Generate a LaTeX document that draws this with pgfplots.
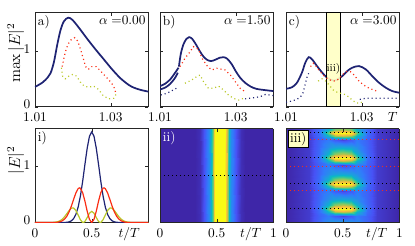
\documentclass[border=0pt]{standalone}
\usepackage{pgfplots}
\pgfplotsset{compat=1.18}
\definecolor{navy}{RGB}{30,35,115}
\definecolor{myred}{RGB}{250,45,20}
\definecolor{myyel}{RGB}{185,200,40}
\definecolor{boxyel}{RGB}{255,255,195}
\pgfplotsset{
 colormap={parula}{rgb255=(62,38,168) rgb255=(71,82,245) rgb255=(49,123,251) rgb255=(32,154,225) rgb255=(8,183,200) rgb255=(56,198,149) rgb255=(131,201,99) rgb255=(202,191,65) rgb255=(250,187,64) rgb255=(245,218,41) rgb255=(249,251,21)},
 base/.style={scale only axis, width=85.1pt, height=70.5pt, axis line style={black!85}, tick align=inside,
   tick style={black!85, major tick length=2.5pt}, enlargelimits=false,
   xticklabel style={text height=1.6ex, text depth=0.3ex, yshift=-0.8pt},
   yticklabel style={yshift=1.5pt}},
 toprow/.style={base, xmin=1.01, xmax=1.04, ymin=0, ymax=1.69, xtick={1.01,1.03}, xticklabels={1.01,1.03}, ytick={0,1}},
 sol/.style={navy, line width=1.3pt, smooth},
 dot/.style={line width=0.9pt, dash pattern=on 0.8pt off 2.2pt},
 heat/.style={base, view={0}{90}, xmin=0, xmax=1, ymin=0, ymax=1, xtick={0,0.5,1}, ytick=\empty,
   colormap name=parula, point meta min=0, point meta max=1, axis on top,
   extra x ticks={0.8}, extra x tick labels={$t/T$}, extra x tick style={major tick length=0pt}},
}
\pgfplotstableread{
x y z
0 0 0
0.2 0 0.05
0.29 0 0.15
0.37 0 0.26
0.43 0 0.32
0.5 0 0.34
0.57 0 0.32
0.63 0 0.26
0.71 0 0.15
0.8 0 0.05
1 0 0

0 0.073 0
0.2 0.073 0.05
0.29 0.073 0.14
0.37 0.073 0.20
0.43 0.073 0.12
0.5 0.073 0.07
0.57 0.073 0.12
0.63 0.073 0.20
0.71 0.073 0.14
0.8 0.073 0.05
1 0.073 0

0 0.113 0
0.2 0.113 0.05
0.29 0.113 0.16
0.37 0.113 0.38
0.43 0.113 0.62
0.5 0.113 0.68
0.57 0.113 0.62
0.63 0.113 0.38
0.71 0.113 0.16
0.8 0.113 0.05
1 0.113 0

0 0.148 0
0.2 0.148 0.05
0.29 0.148 0.17
0.37 0.148 0.55
0.43 0.148 0.97
0.5 0.148 1
0.57 0.148 0.97
0.63 0.148 0.55
0.71 0.148 0.17
0.8 0.148 0.05
1 0.148 0

0 0.183 0
0.2 0.183 0.05
0.29 0.183 0.16
0.37 0.183 0.38
0.43 0.183 0.62
0.5 0.183 0.68
0.57 0.183 0.62
0.63 0.183 0.38
0.71 0.183 0.16
0.8 0.183 0.05
1 0.183 0

0 0.25 0
0.2 0.25 0.05
0.29 0.25 0.15
0.37 0.25 0.26
0.43 0.25 0.32
0.5 0.25 0.34
0.57 0.25 0.32
0.63 0.25 0.26
0.71 0.25 0.15
0.8 0.25 0.05
1 0.25 0

0 0.338 0
0.2 0.338 0.05
0.29 0.338 0.14
0.37 0.338 0.20
0.43 0.338 0.12
0.5 0.338 0.07
0.57 0.338 0.12
0.63 0.338 0.20
0.71 0.338 0.14
0.8 0.338 0.05
1 0.338 0

0 0.378 0
0.2 0.378 0.05
0.29 0.378 0.16
0.37 0.378 0.38
0.43 0.378 0.62
0.5 0.378 0.68
0.57 0.378 0.62
0.63 0.378 0.38
0.71 0.378 0.16
0.8 0.378 0.05
1 0.378 0

0 0.413 0
0.2 0.413 0.05
0.29 0.413 0.17
0.37 0.413 0.55
0.43 0.413 0.97
0.5 0.413 1
0.57 0.413 0.97
0.63 0.413 0.55
0.71 0.413 0.17
0.8 0.413 0.05
1 0.413 0

0 0.448 0
0.2 0.448 0.05
0.29 0.448 0.16
0.37 0.448 0.38
0.43 0.448 0.62
0.5 0.448 0.68
0.57 0.448 0.62
0.63 0.448 0.38
0.71 0.448 0.16
0.8 0.448 0.05
1 0.448 0

0 0.52 0
0.2 0.52 0.05
0.29 0.52 0.15
0.37 0.52 0.26
0.43 0.52 0.32
0.5 0.52 0.34
0.57 0.52 0.32
0.63 0.52 0.26
0.71 0.52 0.15
0.8 0.52 0.05
1 0.52 0

0 0.614 0
0.2 0.614 0.05
0.29 0.614 0.14
0.37 0.614 0.20
0.43 0.614 0.12
0.5 0.614 0.07
0.57 0.614 0.12
0.63 0.614 0.20
0.71 0.614 0.14
0.8 0.614 0.05
1 0.614 0

0 0.654 0
0.2 0.654 0.05
0.29 0.654 0.16
0.37 0.654 0.38
0.43 0.654 0.62
0.5 0.654 0.68
0.57 0.654 0.62
0.63 0.654 0.38
0.71 0.654 0.16
0.8 0.654 0.05
1 0.654 0

0 0.689 0
0.2 0.689 0.05
0.29 0.689 0.17
0.37 0.689 0.55
0.43 0.689 0.97
0.5 0.689 1
0.57 0.689 0.97
0.63 0.689 0.55
0.71 0.689 0.17
0.8 0.689 0.05
1 0.689 0

0 0.724 0
0.2 0.724 0.05
0.29 0.724 0.16
0.37 0.724 0.38
0.43 0.724 0.62
0.5 0.724 0.68
0.57 0.724 0.62
0.63 0.724 0.38
0.71 0.724 0.16
0.8 0.724 0.05
1 0.724 0

0 0.80 0
0.2 0.80 0.05
0.29 0.80 0.15
0.37 0.80 0.26
0.43 0.80 0.32
0.5 0.80 0.34
0.57 0.80 0.32
0.63 0.80 0.26
0.71 0.80 0.15
0.8 0.80 0.05
1 0.80 0

0 0.879 0
0.2 0.879 0.05
0.29 0.879 0.14
0.37 0.879 0.20
0.43 0.879 0.12
0.5 0.879 0.07
0.57 0.879 0.12
0.63 0.879 0.20
0.71 0.879 0.14
0.8 0.879 0.05
1 0.879 0

0 0.919 0
0.2 0.919 0.05
0.29 0.919 0.16
0.37 0.919 0.38
0.43 0.919 0.62
0.5 0.919 0.68
0.57 0.919 0.62
0.63 0.919 0.38
0.71 0.919 0.16
0.8 0.919 0.05
1 0.919 0

0 0.954 0
0.2 0.954 0.05
0.29 0.954 0.17
0.37 0.954 0.55
0.43 0.954 0.97
0.5 0.954 1
0.57 0.954 0.97
0.63 0.954 0.55
0.71 0.954 0.17
0.8 0.954 0.05
1 0.954 0

0 0.989 0
0.2 0.989 0.05
0.29 0.989 0.16
0.37 0.989 0.38
0.43 0.989 0.62
0.5 0.989 0.68
0.57 0.989 0.62
0.63 0.989 0.38
0.71 0.989 0.16
0.8 0.989 0.05
1 0.989 0

0 1 0
0.2 1 0.05
0.29 1 0.16
0.37 1 0.36
0.43 1 0.58
0.5 1 0.63
0.57 1 0.58
0.63 1 0.36
0.71 1 0.16
0.8 1 0.05
1 1 0
}\heatiii
\begin{document}
\begin{tikzpicture}
\useasboundingbox (0,0) rectangle (311.25pt,184.5pt);
% ---------- a)
\begin{axis}[toprow, at={(26.25pt,104.5pt)}, anchor=south west, yticklabels={0,1},
  ylabel={$\max|E|^2$}, ylabel style={font=\large, at={(axis description cs:-0.17,0.57)}, anchor=center}]
\addplot[sol] coordinates {(1.0100,0.355) (1.0119,0.43) (1.0133,0.52) (1.0141,0.60) (1.0150,0.80) (1.0159,1.12) (1.0168,1.39) (1.0177,1.54) (1.0188,1.60) (1.0199,1.56) (1.0216,1.42) (1.0238,1.22) (1.0260,1.03) (1.0282,0.85) (1.0304,0.67) (1.0326,0.51) (1.0348,0.39) (1.0362,0.34) (1.0380,0.30) (1.0400,0.27)};
\addplot[myred, dot] coordinates {(1.0172,0.72) (1.0176,0.86) (1.0181,1.0) (1.0187,1.12) (1.0195,1.20) (1.0205,1.24) (1.0213,1.18) (1.0220,1.04) (1.0227,0.88) (1.0234,0.72) (1.0241,0.67) (1.0250,0.72) (1.0262,0.72) (1.0275,0.63) (1.0290,0.52) (1.0303,0.42) (1.0311,0.32) (1.0314,0.22)};
\addplot[myyel, dot] coordinates {(1.0170,0.70) (1.0173,0.55) (1.0180,0.50) (1.0190,0.55) (1.0200,0.58) (1.0210,0.55) (1.0220,0.44) (1.0230,0.37) (1.0242,0.35) (1.0255,0.37) (1.0268,0.31) (1.0280,0.20) (1.0295,0.14) (1.0308,0.15) (1.0314,0.22)};
\node[anchor=north west, inner sep=2pt] at (axis description cs:0,1) {a)};
\node[anchor=north east, inner sep=2pt] at (axis description cs:1,1) {$\alpha\;{=}0.00$};
\end{axis}
% ---------- b)
\begin{axis}[toprow, at={(120pt,104.5pt)}, anchor=south west, yticklabels={}]
\addplot[sol] coordinates {(1.0100,0.37) (1.0113,0.41) (1.0127,0.49) (1.0140,0.61) (1.0149,0.70)};
\addplot[sol] coordinates {(1.0100,0.31) (1.0113,0.34) (1.0127,0.41) (1.0140,0.52) (1.0147,0.61)};
\addplot[sol] coordinates {(1.0150,0.72) (1.0155,0.95) (1.0162,1.12) (1.0170,1.22) (1.0177,1.25) (1.0185,1.22) (1.0195,1.12) (1.0205,1.00) (1.0215,0.90) (1.0225,0.84) (1.0235,0.82) (1.0245,0.84) (1.0258,0.88) (1.0268,0.89) (1.0278,0.86) (1.0290,0.76) (1.0300,0.64) (1.0312,0.52) (1.0325,0.43) (1.0340,0.36) (1.0355,0.32) (1.0375,0.30) (1.0400,0.28)};
\addplot[myred, dot] coordinates {(1.0153,0.72) (1.0166,0.87) (1.0180,0.99) (1.0188,1.08) (1.0202,1.03) (1.0211,0.87) (1.0226,0.72) (1.0237,0.66) (1.0250,0.69) (1.0272,0.66) (1.0286,0.57) (1.0299,0.45) (1.0312,0.33) (1.0325,0.27)};
\addplot[myyel, dot] coordinates {(1.0166,0.42) (1.0184,0.48) (1.0197,0.54) (1.0206,0.57) (1.0215,0.45) (1.0228,0.33) (1.0241,0.33) (1.0255,0.37) (1.0268,0.30) (1.0281,0.21) (1.0294,0.15) (1.0308,0.12) (1.0321,0.15)};
\addplot[navy, dot] coordinates {(1.0102,0.21) (1.0118,0.24) (1.0135,0.30) (1.0149,0.35)};
\addplot[navy, dot] coordinates {(1.0325,0.14) (1.0348,0.16) (1.0365,0.18) (1.0379,0.22) (1.0400,0.20)};
\node[anchor=north west, inner sep=2pt] at (axis description cs:0,1) {b)};
\node[anchor=north east, inner sep=2pt] at (axis description cs:1,1) {$\alpha\;{=}1.50$};
\end{axis}
% ---------- c)
\begin{axis}[toprow, at={(214.5pt,104.5pt)}, anchor=south west, yticklabels={},
  extra x ticks={1.0382}, extra x tick labels={$T$}, extra x tick style={major tick length=0pt}]
\addplot[sol] coordinates {(1.0100,0.32) (1.0116,0.35) (1.0129,0.43) (1.0142,0.61) (1.0151,0.79) (1.0160,0.89) (1.0169,0.85) (1.0182,0.73) (1.0196,0.61) (1.0209,0.52) (1.0228,0.47) (1.0249,0.55) (1.0262,0.64) (1.0275,0.70) (1.0293,0.73) (1.0311,0.67) (1.0328,0.55) (1.0346,0.43) (1.0364,0.34) (1.0381,0.28) (1.0400,0.25)};
\addplot[draw=black, line width=0.6pt, fill=boxyel, fill opacity=0.9] coordinates {(1.0207,0) (1.0207,1.69) (1.0244,1.69) (1.0244,0)} -- cycle;
\addplot[myred, dot] coordinates {(1.0165,0.72) (1.0172,0.78) (1.0180,0.72) (1.0190,0.63) (1.0200,0.56) (1.0210,0.50) (1.0220,0.47) (1.0230,0.46) (1.0240,0.50) (1.0250,0.58) (1.0260,0.63) (1.0270,0.63) (1.0280,0.57) (1.0290,0.48) (1.0305,0.39) (1.0320,0.33) (1.0340,0.28)};
\addplot[myyel, dot] coordinates {(1.0185,0.46) (1.0195,0.50) (1.0205,0.46) (1.0215,0.38) (1.0225,0.30) (1.0235,0.26) (1.0245,0.24) (1.0255,0.22) (1.0265,0.18) (1.0275,0.12) (1.0285,0.07) (1.0295,0.06) (1.0300,0.08)};
\addplot[navy, dot] coordinates {(1.0100,0.08) (1.0115,0.10) (1.0128,0.13) (1.0138,0.17) (1.0145,0.25) (1.0150,0.38) (1.0155,0.52) (1.0160,0.60)};
\addplot[navy, dot] coordinates {(1.0295,0.13) (1.0310,0.15) (1.0330,0.15) (1.0350,0.15) (1.0370,0.15) (1.0385,0.15) (1.0400,0.15)};
\node[font=\footnotesize, inner sep=0pt] at (axis cs:1.02255,0.68) {iii)};
\node[anchor=north west, inner sep=2pt] at (axis description cs:0,1) {c)};
\node[anchor=north east, inner sep=2pt] at (axis description cs:1,1) {$\alpha\;{=}3.00$};
\end{axis}
% ---------- i)
\begin{axis}[base, at={(26.25pt,17.6pt)}, anchor=south west, xmin=0, xmax=1, ymin=0, ymax=1.68,
  xtick={0,0.5,1}, xticklabels={0,0.5,{}}, ytick={0,1}, yticklabels={0,1},
  extra x ticks={0.83}, extra x tick labels={$t/T$}, extra x tick style={major tick length=0pt},
  ylabel={$|E|^2$}, ylabel style={font=\large, at={(axis description cs:-0.17,0.66)}, anchor=center}]
\addplot[navy, line width=0.9pt] coordinates {(0,0) (0.24,0) (0.28,0.004) (0.30,0.012) (0.32,0.030) (0.34,0.069) (0.36,0.144) (0.38,0.274) (0.40,0.471) (0.42,0.735) (0.44,1.039) (0.46,1.329) (0.48,1.542) (0.50,1.62) (0.52,1.542) (0.54,1.329) (0.56,1.039) (0.58,0.735) (0.60,0.471) (0.62,0.274) (0.64,0.144) (0.66,0.069) (0.68,0.030) (0.70,0.012) (0.72,0.004) (0.76,0) (1,0)};
\addplot[myyel, line width=0.9pt] coordinates {(0,0) (0.14,0.001) (0.17,0.004) (0.20,0.015) (0.22,0.031) (0.24,0.059) (0.26,0.102) (0.28,0.156) (0.30,0.213) (0.32,0.254) (0.33,0.262) (0.34,0.259) (0.36,0.216) (0.38,0.136) (0.40,0.050) (0.42,0.002) (0.425,0) (0.44,0.019) (0.46,0.089) (0.48,0.167) (0.50,0.2) (0.52,0.167) (0.54,0.089) (0.56,0.019) (0.575,0) (0.58,0.002) (0.60,0.050) (0.62,0.136) (0.64,0.216) (0.66,0.259) (0.67,0.262) (0.68,0.254) (0.70,0.213) (0.72,0.156) (0.74,0.102) (0.76,0.059) (0.78,0.031) (0.80,0.015) (0.83,0.004) (0.86,0.001) (1,0)};
\addplot[myred, line width=0.9pt] coordinates {(0,0) (0.18,0) (0.20,0.006) (0.22,0.014) (0.24,0.030) (0.26,0.060) (0.28,0.110) (0.30,0.187) (0.32,0.291) (0.34,0.412) (0.36,0.528) (0.38,0.605) (0.392,0.62) (0.40,0.613) (0.42,0.534) (0.44,0.382) (0.46,0.202) (0.48,0.056) (0.50,0) (0.52,0.056) (0.54,0.202) (0.56,0.382) (0.58,0.534) (0.60,0.613) (0.608,0.62) (0.62,0.605) (0.64,0.528) (0.66,0.412) (0.68,0.291) (0.70,0.187) (0.72,0.110) (0.74,0.060) (0.76,0.030) (0.78,0.014) (0.80,0.006) (0.82,0) (1,0)};
\node[anchor=north west, inner sep=2pt] at (axis description cs:0,1) {i)};
\end{axis}
% ---------- ii)
\begin{axis}[heat, at={(120pt,17.6pt)}, anchor=south west, xticklabels={0,0.5,1}]
\addplot3[surf, shader=interp, mesh/cols=18] table {
x y z
0 0 0
0.31 0 0
0.35 0 0.02
0.39 0 0.10
0.43 0 0.25
0.45 0 0.40
0.465 0 0.58
0.478 0 0.85
0.488 0 1
0.572 0 1
0.582 0 0.85
0.595 0 0.58
0.61 0 0.40
0.63 0 0.25
0.67 0 0.10
0.71 0 0.02
0.75 0 0
1 0 0

0 1 0
0.31 1 0
0.35 1 0.02
0.39 1 0.10
0.43 1 0.25
0.45 1 0.40
0.465 1 0.58
0.478 1 0.85
0.488 1 1
0.572 1 1
0.582 1 0.85
0.595 1 0.58
0.61 1 0.40
0.63 1 0.25
0.67 1 0.10
0.71 1 0.02
0.75 1 0
1 1 0
};
\addplot3[black, dot, line width=0.8pt] coordinates {(0,0.5,1.2) (1,0.5,1.2)};
\node[anchor=north west, inner sep=2pt, text=white] at (axis description cs:0,1) {ii)};
\end{axis}
% ---------- iii)
\begin{axis}[heat, at={(214.5pt,17.6pt)}, anchor=south west, xticklabels={0,0.5,1}]
\addplot3[surf, shader=interp, mesh/cols=11] table {\heatiii};
\addplot3[black, dot, line width=0.8pt] coordinates {(0,0.954,1.2) (1,0.954,1.2)};
\addplot3[black, dot, line width=0.8pt] coordinates {(0,0.689,1.2) (1,0.689,1.2)};
\addplot3[black, dot, line width=0.8pt] coordinates {(0,0.413,1.2) (1,0.413,1.2)};
\addplot3[black, dot, line width=0.8pt] coordinates {(0,0.148,1.2) (1,0.148,1.2)};
\addplot3[myred, dot, line width=0.8pt] coordinates {(0,0.883,1.2) (1,0.883,1.2)};
\addplot3[myred, dot, line width=0.8pt] coordinates {(0,0.594,1.2) (1,0.594,1.2)};
\addplot3[myred, dot, line width=0.8pt] coordinates {(0,0.336,1.2) (1,0.336,1.2)};
\node[anchor=north west, draw=black, fill=boxyel, line width=0.6pt, inner sep=1.5pt] at (axis description cs:0.015,0.985) {iii)};
\end{axis}
\end{tikzpicture}
\end{document}
